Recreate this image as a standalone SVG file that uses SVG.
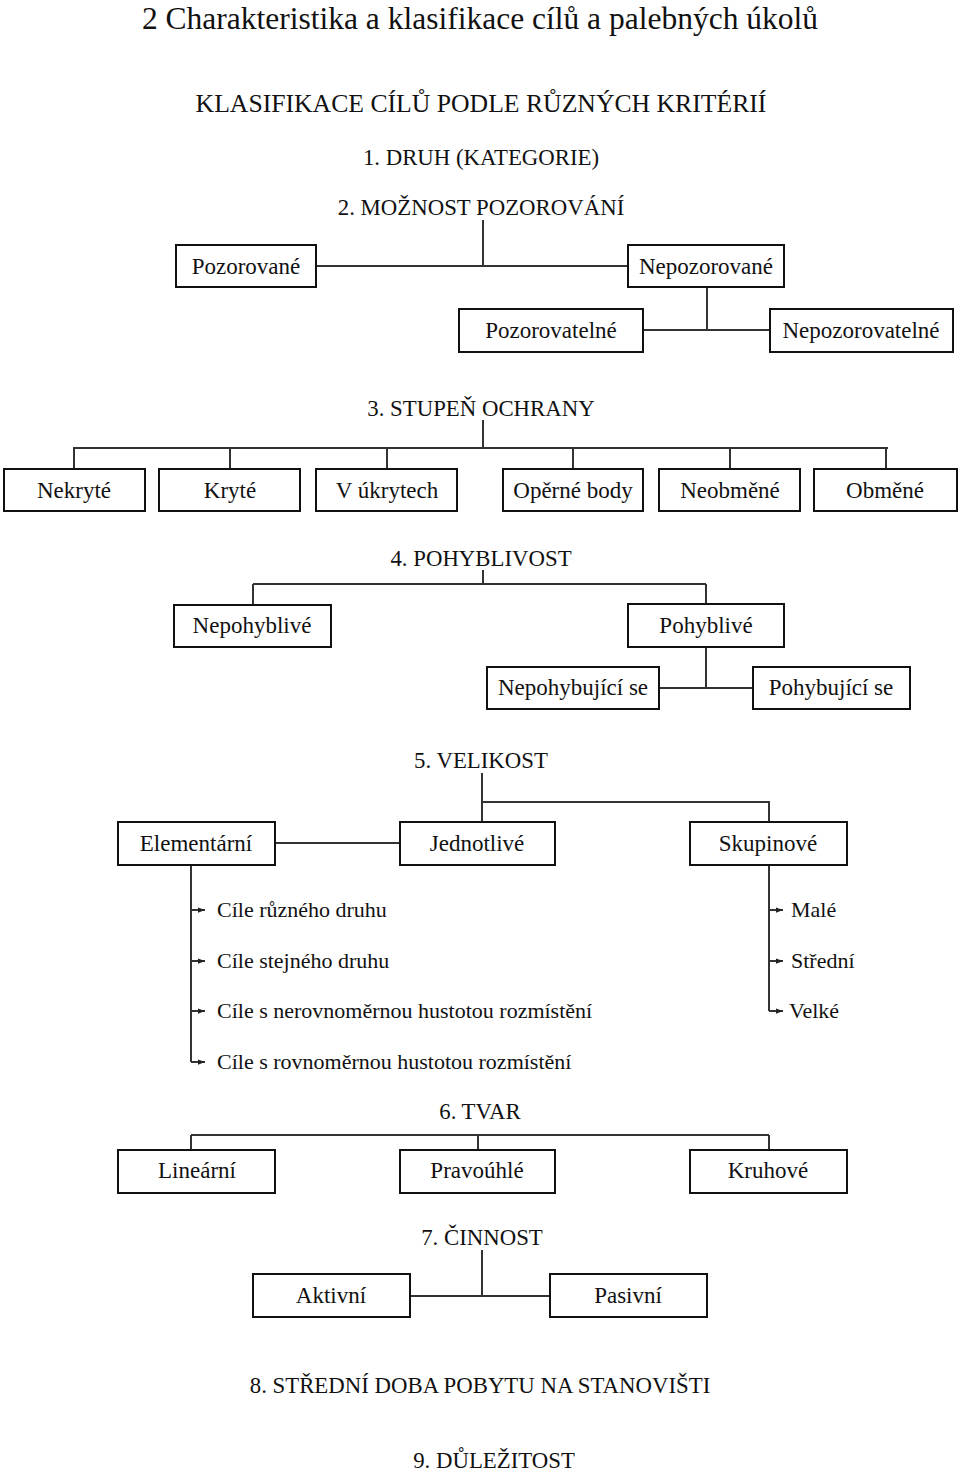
<svg xmlns="http://www.w3.org/2000/svg" width="960" height="1476" viewBox="0 0 960 1476">
<style>
text{font-family:"Liberation Serif","Times New Roman",serif;fill:#111}
.t{font-size:31.5px}
.h{font-size:25.7px;text-anchor:middle}
.s{font-size:22.8px;text-anchor:middle}
.n rect{fill:#fff;stroke:#111;stroke-width:2}
.n text{font-size:23px;text-anchor:middle}
.l{font-size:22px}
#conn path{fill:none;stroke:#333;stroke-width:2}
</style>
<defs>
<marker id="ar" viewBox="0 0 8 8" refX="8" refY="4" markerWidth="7" markerHeight="7" markerUnits="userSpaceOnUse" orient="auto">
<path d="M0,1 L8,4 L0,7 z" fill="#222"/>
</marker>
</defs>
<rect width="960" height="1476" fill="#fff"/>
<text class="t" x="480" y="29" text-anchor="middle">2 Charakteristika a klasifikace cílů a palebných úkolů</text>
<text class="h" x="481" y="112">KLASIFIKACE CÍLŮ PODLE RŮZNÝCH KRITÉRIÍ</text>
<text class="s" x="481" y="165">1. DRUH (KATEGORIE)</text>
<text class="s" x="481" y="215">2. MOŽNOST POZOROVÁNÍ</text>
<text class="s" x="481" y="416">3. STUPEŇ OCHRANY</text>
<text class="s" x="481" y="566">4. POHYBLIVOST</text>
<text class="s" x="481" y="768">5. VELIKOST</text>
<text class="s" x="480" y="1119">6. TVAR</text>
<text class="s" x="482" y="1245">7.  ČINNOST</text>
<text class="s" x="480" y="1393">8. STŘEDNÍ DOBA POBYTU NA STANOVIŠTI</text>
<text class="s" x="494" y="1468">9. DŮLEŽITOST</text>

<g id="conn">
<path d="M483,220 V266 M316,266 H628"/>
<path d="M707,287 V330 M643,330 H770"/>
<path d="M483,420 V448 M73,448 H888 M74,448 V469 M230,448 V469 M387,448 V469 M573,448 V469 M730,448 V469 M886,448 V469"/>
<path d="M483,570 V584 M253,584 H706 M253,584 V605 M706,584 V604"/>
<path d="M706,647 V688 M659,688 H753"/>
<path d="M482,773 V822 M482,802 H769 V822 M275,843 H400"/>
<path d="M191,865 V1062"/>
<path d="M191,910 H205" marker-end="url(#ar)"/>
<path d="M191,961 H205" marker-end="url(#ar)"/>
<path d="M191,1011 H205" marker-end="url(#ar)"/>
<path d="M191,1062 H205" marker-end="url(#ar)"/>
<path d="M769,865 V1011"/>
<path d="M769,910 H783" marker-end="url(#ar)"/>
<path d="M769,961 H783" marker-end="url(#ar)"/>
<path d="M769,1011 H783" marker-end="url(#ar)"/>
<path d="M191,1135 H769 M191,1135 V1150 M478,1135 V1150 M769,1135 V1150"/>
<path d="M482,1250 V1296 M410,1296 H550"/>
</g>

<g id="n-pozorovane" class="n"><rect x="176" y="245" width="140" height="42"/><text x="246" y="274">Pozorované</text></g>
<g id="n-nepozorovane" class="n"><rect x="628" y="245" width="156" height="42"/><text x="706" y="274">Nepozorované</text></g>
<g id="n-pozorovatelne" class="n"><rect x="459" y="309" width="184" height="43"/><text x="551" y="338">Pozorovatelné</text></g>
<g id="n-nepozorovatelne" class="n"><rect x="770" y="309" width="183" height="43"/><text x="861" y="338">Nepozorovatelné</text></g>

<g id="n-nekryte" class="n"><rect x="4" y="469" width="141" height="42"/><text x="74" y="498">Nekryté</text></g>
<g id="n-kryte" class="n"><rect x="159" y="469" width="141" height="42"/><text x="230" y="498">Kryté</text></g>
<g id="n-vukrytech" class="n"><rect x="316" y="469" width="141" height="42"/><text x="387" y="498">V úkrytech</text></g>
<g id="n-operne" class="n"><rect x="503" y="469" width="140" height="42"/><text x="573" y="498">Opěrné body</text></g>
<g id="n-neobmene" class="n"><rect x="659" y="469" width="141" height="42"/><text x="730" y="498">Neobměné</text></g>
<g id="n-obmene" class="n"><rect x="814" y="469" width="143" height="42"/><text x="885" y="498">Obměné</text></g>

<g id="n-nepohyblive" class="n"><rect x="174" y="605" width="157" height="42"/><text x="252" y="633">Nepohyblivé</text></g>
<g id="n-pohyblive" class="n"><rect x="628" y="604" width="156" height="43"/><text x="706" y="633">Pohyblivé</text></g>
<g id="n-nepohybujici" class="n"><rect x="487" y="667" width="172" height="42"/><text x="573" y="695">Nepohybující se</text></g>
<g id="n-pohybujici" class="n"><rect x="753" y="667" width="157" height="42"/><text x="831" y="695">Pohybující se</text></g>

<g id="n-elementarni" class="n"><rect x="118" y="822" width="157" height="43"/><text x="196" y="851">Elementární</text></g>
<g id="n-jednotlive" class="n"><rect x="400" y="822" width="155" height="43"/><text x="477" y="851">Jednotlivé</text></g>
<g id="n-skupinove" class="n"><rect x="690" y="822" width="157" height="43"/><text x="768" y="851">Skupinové</text></g>

<g id="list-left">
<text class="l" x="217" y="917">Cíle různého druhu</text>
<text class="l" x="217" y="968">Cíle stejného druhu</text>
<text class="l" x="217" y="1018">Cíle s nerovnoměrnou hustotou rozmístění</text>
<text class="l" x="217" y="1069">Cíle s rovnoměrnou hustotou rozmístění</text>
</g>
<g id="list-right">
<text class="l" x="791" y="917">Malé</text>
<text class="l" x="791" y="968">Střední</text>
<text class="l" x="789" y="1018">Velké</text>
</g>

<g id="n-linearni" class="n"><rect x="118" y="1150" width="157" height="43"/><text x="197" y="1178">Lineární</text></g>
<g id="n-pravouhle" class="n"><rect x="400" y="1150" width="155" height="43"/><text x="477" y="1178">Pravoúhlé</text></g>
<g id="n-kruhove" class="n"><rect x="690" y="1150" width="157" height="43"/><text x="768" y="1178">Kruhové</text></g>

<g id="n-aktivni" class="n"><rect x="253" y="1274" width="157" height="43"/><text x="331" y="1303">Aktivní</text></g>
<g id="n-pasivni" class="n"><rect x="550" y="1274" width="157" height="43"/><text x="628" y="1303">Pasivní</text></g>
</svg>
